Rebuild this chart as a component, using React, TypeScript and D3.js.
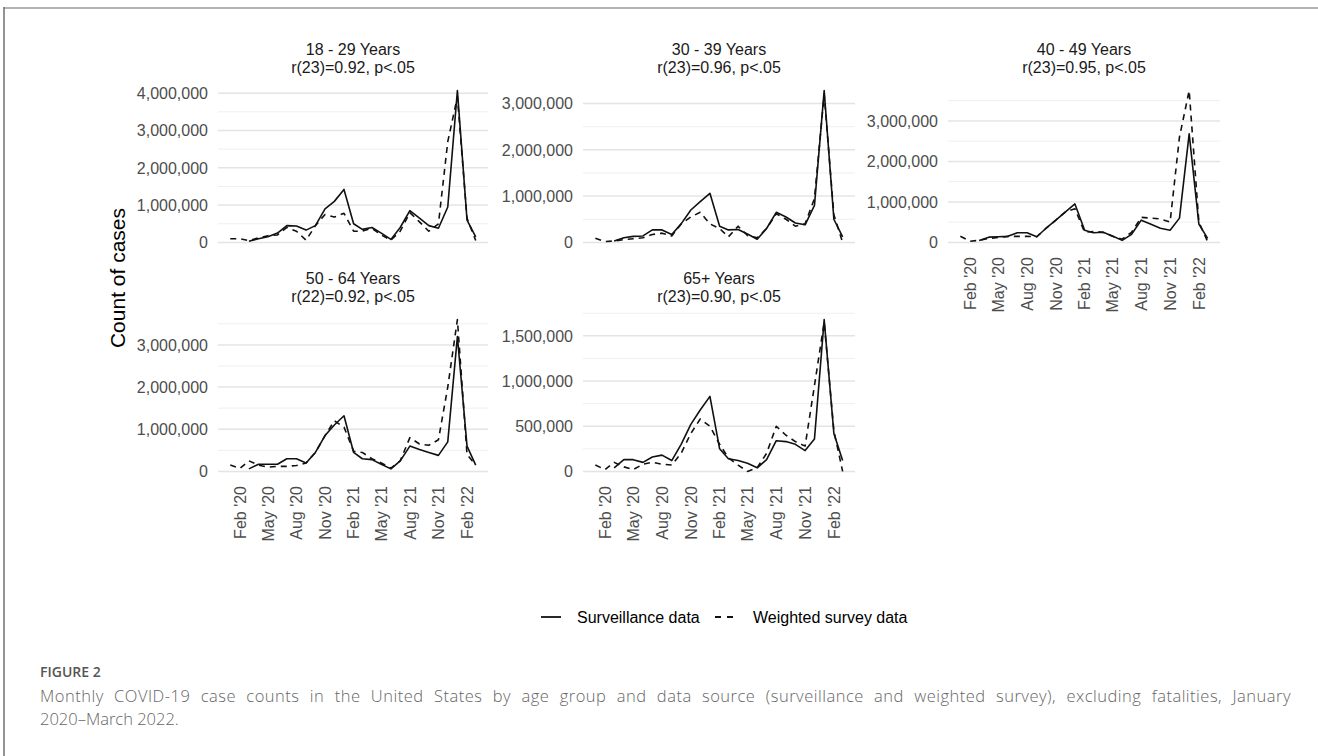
import React, { useEffect, useRef } from 'react';
import * as d3 from 'd3';

// Months Jan 2020 - Mar 2022
const months = [
  '2020-01', '2020-02', '2020-03', '2020-04', '2020-05', '2020-06', '2020-07', '2020-08', '2020-09', '2020-10', '2020-11', '2020-12',
  '2021-01', '2021-02', '2021-03', '2021-04', '2021-05', '2021-06', '2021-07', '2021-08', '2021-09', '2021-10', '2021-11', '2021-12',
  '2022-01', '2022-02', '2022-03'
];

const tickMonths = ['2020-02', '2020-05', '2020-08', '2020-11', '2021-02', '2021-05', '2021-08', '2021-11', '2022-02'];

const panelTitles = ['18 - 29 Years', '30 - 39 Years', '40 - 49 Years', '50 - 64 Years', '65+ Years'];
const panelStats = ['r(23)=0.92, p<.05', 'r(23)=0.96, p<.05', 'r(23)=0.95, p<.05', 'r(22)=0.92, p<.05', 'r(23)=0.90, p<.05'];

// Surveillance data (solid)
const surv1829 = [null, null, 30000, 100000, 150000, 250000, 450000, 440000, 330000, 450000, 900000, 1100000, 1420000, 500000, 350000, 400000, 250000, 80000, 400000, 850000, 650000, 450000, 380000, 950000, 4070000, 600000, 150000];
const surv3039 = [null, null, 30000, 100000, 130000, 140000, 270000, 270000, 170000, 400000, 700000, 880000, 1060000, 350000, 270000, 280000, 180000, 70000, 300000, 650000, 550000, 420000, 380000, 800000, 3280000, 500000, 120000];
const surv4049 = [null, null, 50000, 130000, 140000, 150000, 240000, 240000, 140000, 350000, 550000, 750000, 950000, 300000, 240000, 250000, 160000, 50000, 200000, 550000, 450000, 350000, 300000, 600000, 2680000, 450000, 100000];
const surv5064 = [null, null, 60000, 170000, 170000, 170000, 300000, 300000, 200000, 450000, 850000, 1100000, 1320000, 450000, 300000, 280000, 170000, 60000, 250000, 600000, 520000, 450000, 380000, 700000, 3200000, 600000, 150000];
const surv65 = [null, null, 40000, 130000, 130000, 100000, 160000, 180000, 120000, 300000, 520000, 680000, 830000, 250000, 140000, 120000, 90000, 40000, 130000, 340000, 330000, 300000, 230000, 360000, 1680000, 420000, 120000];

// Weighted survey data (dashed)
const survey1829 = [100000, 100000, 50000, 120000, 180000, 200000, 400000, 300000, 60000, 450000, 750000, 680000, 780000, 300000, 300000, 380000, 200000, 60000, 300000, 800000, 550000, 300000, 500000, 2700000, 3900000, 650000, 50000];
const survey3039 = [90000, 20000, 30000, 60000, 80000, 100000, 170000, 200000, 140000, 400000, 550000, 650000, 400000, 300000, 120000, 350000, 150000, 100000, 300000, 620000, 500000, 350000, 400000, 950000, 3200000, 600000, 0];
const survey4049 = [150000, 30000, 50000, 100000, 120000, 150000, 150000, 150000, 140000, 350000, 550000, 750000, 830000, 250000, 270000, 250000, 150000, 80000, 250000, 620000, 600000, 580000, 500000, 2600000, 3750000, 500000, 20000];
const survey5064 = [150000, 70000, 250000, 150000, 100000, 120000, 120000, 140000, 200000, 450000, 850000, 1200000, 1050000, 480000, 450000, 300000, 200000, 80000, 250000, 800000, 650000, 620000, 750000, 2000000, 3600000, 400000, 150000];
const survey65 = [70000, 20000, 100000, 50000, 20000, 80000, 100000, 80000, 70000, 200000, 420000, 580000, 500000, 300000, 150000, 70000, 0, 40000, 200000, 500000, 400000, 330000, 280000, 950000, 1650000, 450000, 0];

const survSeries = [surv1829, surv3039, surv4049, surv5064, surv65];
const surveySeries = [survey1829, survey3039, survey4049, survey5064, survey65];

const legendLabels = ['Surveillance data', 'Weighted survey data'];

const captionLines = [
  'Monthly COVID-19 case counts in the United States by age group and data source (surveillance and weighted survey), excluding fatalities, January',
  '2020\u2013March 2022.'
];

const W = 1318;
const H = 756;

export default function App() {
  const svgRef = useRef<SVGSVGElement>(null);

  useEffect(() => {
    if (!svgRef.current) return;
    const svg = d3.select(svgRef.current);
    svg.selectAll('*').remove();

    const parse = d3.timeParse('%Y-%m');
    const dates = months.map(m => parse(m) as Date);
    const ticks = tickMonths.map(m => parse(m) as Date);
    const fmtTick = d3.timeFormat("%b '%y");
    const fmtNum = d3.format(',');

    const font = "'Liberation Sans', Arial, sans-serif";

    // frame lines
    svg.append('rect').attr('x', 4).attr('y', 7).attr('width', W - 4).attr('height', 2).attr('fill', '#b4b4b4');
    svg.append('line').attr('x1', 4).attr('x2', 4).attr('y1', 7).attr('y2', H)
      .attr('stroke', '#5a5a5a').attr('stroke-width', 1.3);

    const cols = [[218, 488], [583, 855], [948, 1220]];
    const rows = [[83, 250], [312, 479]];

    const t0 = dates[0].getTime();
    const t1 = dates[dates.length - 1].getTime();
    const tPad = (t1 - t0) * 0.05;

    survSeries.forEach((surv, i) => {
      const survey = surveySeries[i];
      const [x0, x1] = cols[i % 3];
      const [top, bottom] = rows[Math.floor(i / 3)];
      const g = svg.append('g');

      const x = d3.scaleTime()
        .domain([new Date(t0 - tPad), new Date(t1 + tPad)])
        .range([x0, x1]);

      const maxV = d3.max([...surv, ...survey].map(v => v ?? 0)) || 1;
      const y = d3.scaleLinear()
        .domain([-0.05 * maxV, maxV * 1.05])
        .range([bottom, top]);

      const yTicks = y.ticks(5).filter(t => t >= 0);
      const step = yTicks.length > 1 ? yTicks[1] - yTicks[0] : maxV;
      const minor: number[] = [];
      for (let v = yTicks[0] - step / 2; v <= y.domain()[1]; v += step) {
        if (v >= y.domain()[0]) minor.push(v);
      }

      // minor grid
      g.append('g').selectAll('line').data(minor).join('line')
        .attr('x1', x0).attr('x2', x1)
        .attr('y1', d => y(d)).attr('y2', d => y(d))
        .attr('stroke', '#efefef').attr('stroke-width', 1);

      // major grid
      g.append('g').selectAll('line').data(yTicks).join('line')
        .attr('x1', x0).attr('x2', x1)
        .attr('y1', d => y(d)).attr('y2', d => y(d))
        .attr('stroke', '#e4e4e4').attr('stroke-width', 1.5);

      // y labels
      g.append('g').selectAll('text').data(yTicks).join('text')
        .attr('x', x0 - 10).attr('y', d => y(d))
        .attr('dy', '0.36em')
        .attr('text-anchor', 'end')
        .style('font-family', font).style('font-size', '16px')
        .attr('fill', '#4d4d4d')
        .text(d => fmtNum(d));

      // x labels (only bottom of each column)
      if (i >= 2) {
        g.append('g').selectAll('text').data(ticks).join('text')
          .attr('transform', d => `translate(${x(d)},${bottom + 7}) rotate(-90)`)
          .attr('dy', '0.36em')
          .attr('text-anchor', 'end')
          .style('font-family', font).style('font-size', '16px')
          .attr('fill', '#4d4d4d')
          .text(d => fmtTick(d));
      }

      // strip titles
      const cx = (x0 + x1) / 2;
      g.append('text').attr('x', cx).attr('y', top - 28).attr('text-anchor', 'middle')
        .style('font-family', font).style('font-size', '16px').attr('fill', '#1a1a1a')
        .text(panelTitles[i]);
      g.append('text').attr('x', cx).attr('y', top - 10).attr('text-anchor', 'middle')
        .style('font-family', font).style('font-size', '16px').attr('fill', '#1a1a1a')
        .text(panelStats[i]);

      const line = d3.line<number | null>()
        .defined(d => d !== null)
        .x((_, k) => x(dates[k]))
        .y(d => y(d as number));

      g.append('path').datum(survey)
        .attr('d', line)
        .attr('fill', 'none').attr('stroke', '#111')
        .attr('stroke-width', 1.6)
        .attr('stroke-dasharray', '6,5')
        .attr('stroke-linejoin', 'round');

      g.append('path').datum(surv)
        .attr('d', line)
        .attr('fill', 'none').attr('stroke', '#111')
        .attr('stroke-width', 1.6)
        .attr('stroke-linejoin', 'round');
    });

    // y axis title
    svg.append('text')
      .attr('transform', 'translate(125,278) rotate(-90)')
      .attr('text-anchor', 'middle')
      .style('font-family', font).style('font-size', '21px')
      .attr('fill', '#000')
      .text('Count of cases');

    // legend
    const lg = svg.append('g');
    lg.append('line').attr('x1', 541).attr('x2', 561).attr('y1', 617).attr('y2', 617)
      .attr('stroke', '#111').attr('stroke-width', 1.8);
    lg.append('text').attr('x', 577).attr('y', 617).attr('dy', '0.36em')
      .style('font-family', font).style('font-size', '16px').attr('fill', '#000')
      .text(legendLabels[0]);
    lg.append('line').attr('x1', 715).attr('x2', 737).attr('y1', 617).attr('y2', 617)
      .attr('stroke', '#111').attr('stroke-width', 1.8).attr('stroke-dasharray', '6,6');
    lg.append('text').attr('x', 753).attr('y', 617).attr('dy', '0.36em')
      .style('font-family', font).style('font-size', '16px').attr('fill', '#000')
      .text(legendLabels[1]);

    // caption
    const capFont = "'Open Sans', 'Noto Sans', sans-serif";
    svg.append('text').attr('x', 40).attr('y', 677)
      .style('font-family', capFont).style('font-size', '14px').style('font-weight', 600)
      .attr('fill', '#555')
      .text('FIGURE 2');

    const first = svg.append('text').attr('x', 40).attr('y', 702)
      .style('font-family', capFont).style('font-size', '16.5px').style('font-weight', 300)
      .style('letter-spacing', '0.5px')
      .attr('fill', '#666')
      .text(captionLines[0]);
    // justify the first caption line to the full width
    const node = first.node() as SVGTextElement;
    const natural = node.getComputedTextLength();
    const spaces = captionLines[0].split(' ').length - 1;
    const target = 1251;
    if (natural < target && spaces > 0) {
      first.style('word-spacing', `${(target - natural) / spaces}px`);
    }

    svg.append('text').attr('x', 40).attr('y', 725)
      .style('font-family', capFont).style('font-size', '16.5px').style('font-weight', 300)
      .attr('fill', '#666')
      .text(captionLines[1]);
  }, []);

  return (
    <svg
      ref={svgRef}
      width={W}
      height={H}
      style={{ position: 'absolute', left: 0, top: 0, background: '#fff' }}
    />
  );
}
